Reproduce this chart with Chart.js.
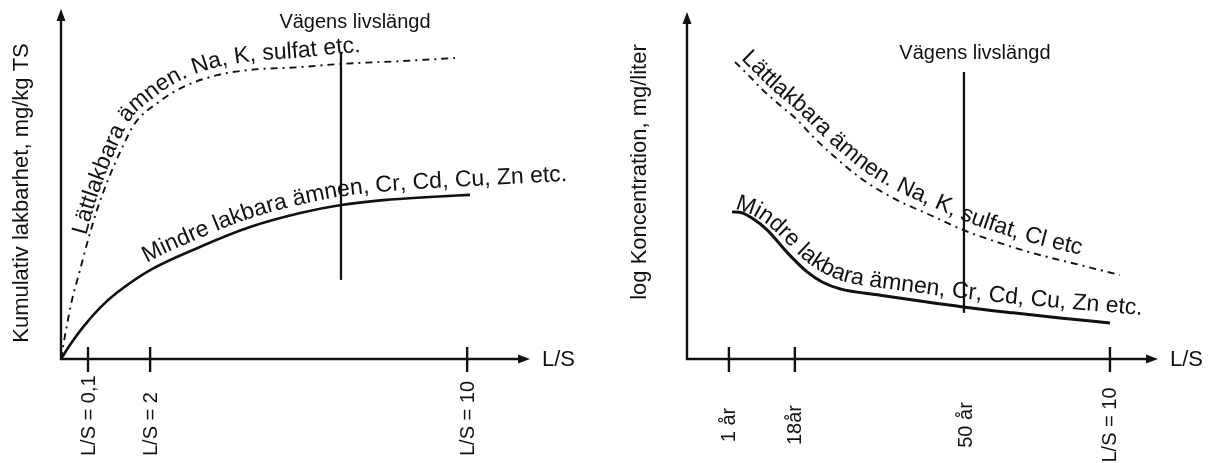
<!DOCTYPE html>
<html><head><meta charset="utf-8">
<script src="https://cdn.jsdelivr.net/npm/chart.js@4.4.1/dist/chart.umd.min.js"></script>
<style>
html,body{margin:0;padding:0;background:#fff;}
#wrap{position:relative;width:1210px;height:463px;overflow:hidden;}
canvas{position:absolute;top:0;}
#c1{left:0;} #c2{left:600px;}
</style></head><body>
<div id="wrap"><canvas id="c1" width="600" height="463"></canvas><canvas id="c2" width="610" height="463"></canvas></div>
<script>
// ---------- Left panel: cumulative leachability (schematic units 0-100) ----------
const leftEasyX = [0, 1.07, 2.35, 4.05, 5.76, 7.68, 10.0, 12.6, 15.8, 20.5, 26.0, 33.3, 40.3, 51.0, 59.5, 72.3, 84.0];
const leftEasyY = [0, 8.3, 16.9, 25.4, 34.0, 42.6, 51.1, 59.1, 67.4, 73.1, 77.7, 81.1, 82.6, 83.4, 84.3, 85.1, 86.0];
const leftLessX = [0, 1.9, 4.7, 8.3, 11.9, 19.0, 29.6, 40.3, 51.0, 59.7, 68.7, 78.7, 87.2];
const leftLessY = [0, 4.0, 9.1, 14.6, 18.9, 25.4, 32.0, 37.7, 41.7, 44.0, 45.4, 46.3, 46.9];
const leftLifeX = [59.7, 59.7];
const leftLifeY = [22.6, 87.7];
const leftTicks = [5.76, 19.0, 86.6];
const leftTickLabels = ['L/S = 0,1', 'L/S = 2', 'L/S = 10'];

// ---------- Right panel: log concentration (schematic units 0-100) ----------
const rightEasyX = [10.2, 13.4, 16.1, 19.7, 23.4, 26.8, 30.4, 37.4, 44.6, 51.6, 58.6, 66.5, 73.5, 83.4, 91.9];
const rightEasyY = [85.6, 81.3, 77.5, 73.2, 68.9, 64.0, 59.4, 51.6, 45.8, 41.5, 37.2, 33.4, 30.5, 27.1, 24.2];
const rightLessX = [9.55, 11.7, 13.8, 17.0, 21.2, 25.5, 28.7, 32.5, 41.0, 49.5, 58.6, 69.2, 79.2, 89.8];
const rightLessY = [42.4, 42.1, 40.6, 37.2, 30.8, 25.1, 22.2, 20.2, 18.4, 16.7, 15.0, 13.3, 11.8, 10.4];
const rightLifeX = [58.8, 58.8];
const rightLifeY = [13.3, 82.7];
const rightTicks = [8.9, 22.9, 89.8];
const rightTickLabelPos = [8.9, 22.9, 59.2, 89.8];
const rightTickLabels = ['1 år', '18år', '50 år', 'L/S = 10'];

const lifeText = 'Vägens livslängd';
const leftTitle = 'Kumulativ lakbarhet, mg/kg TS';
const rightTitle = 'log Koncentration, mg/liter';
const xName = 'L/S';
const leftEasyText = 'Lättlakbara ämnen. Na, K, sulfat etc.';
const rightEasyText = 'Lättlakbara ämnen. Na, K, sulfat, Cl etc';
const lessText = 'Mindre lakbara ämnen, Cr, Cd, Cu, Zn etc.';

const FONT = '"Liberation Sans", Arial, Helvetica, sans-serif';
const INK = '#111';

function zip(xs, ys) { return xs.map((x, i) => ({x: x, y: ys[i]})); }

function unit(a, b) { const dx = b[0]-a[0], dy = b[1]-a[1]; const l = Math.hypot(dx, dy) || 1; return [dx/l, dy/l]; }
function cumLen(P) { const S = [0]; for (let i = 1; i < P.length; i++) S.push(S[i-1] + Math.hypot(P[i][0]-P[i-1][0], P[i][1]-P[i-1][1])); return S; }
function at(P, S, s) {
  if (s <= 0) return P[0].slice();
  const tot = S[S.length-1];
  if (s >= tot) return P[P.length-1].slice();
  let lo = 0, hi = S.length - 1;
  while (hi - lo > 1) { const m = (lo + hi) >> 1; if (S[m] <= s) lo = m; else hi = m; }
  const f = (s - S[lo]) / ((S[hi] - S[lo]) || 1);
  return [P[lo][0] + (P[hi][0]-P[lo][0])*f, P[lo][1] + (P[hi][1]-P[lo][1])*f];
}
function samplePath(meta) {
  const pts = meta.data, out = [];
  for (let i = 0; i < pts.length - 1; i++) {
    const a = pts[i], b = pts[i+1];
    const p1x = a.cp2x ?? a.x, p1y = a.cp2y ?? a.y, p2x = b.cp1x ?? b.x, p2y = b.cp1y ?? b.y;
    for (let k = 0; k < 24; k++) {
      const t = k/24, u = 1-t;
      out.push([u*u*u*a.x + 3*u*u*t*p1x + 3*u*t*t*p2x + t*t*t*b.x,
                u*u*u*a.y + 3*u*u*t*p1y + 3*u*t*t*p2y + t*t*t*b.y]);
    }
  }
  const l = pts[pts.length-1]; out.push([l.x, l.y]);
  return out;
}
function drawCurveText(ctx, meta, cfg) {
  const EXT = 300;
  let P = samplePath(meta);
  const n = P.length;
  const d0 = unit(P[0], P[Math.min(6, n-1)]);
  const d1 = unit(P[Math.max(n-7, 0)], P[n-1]);
  P = [[P[0][0]-d0[0]*EXT, P[0][1]-d0[1]*EXT]].concat(P, [[P[n-1][0]+d1[0]*EXT, P[n-1][1]+d1[1]*EXT]]);
  const S = cumLen(P), tot = S[S.length-1];
  ctx.save();
  ctx.font = cfg.size + 'px ' + FONT;
  const textLen = ctx.measureText(cfg.text).width;
  const O = [], STEP = 2, W = cfg.smooth || 12, PS = cfg.posSmooth || 0;
  const s0 = EXT + cfg.start;
  for (let s = 0; s <= tot; s += STEP) {
    let p;
    if (PS > 0) {
      let sx = 0, sy = 0, c = 0;
      for (let k = -PS; k <= PS; k += 2) { const q = at(P, S, s + k); sx += q[0]; sy += q[1]; c++; }
      p = [sx/c, sy/c];
    } else p = at(P, S, s);
    const a = at(P, S, s - W), b = at(P, S, s + W);
    const t = unit(a, b);
    const fr = Math.max(0, Math.min(1, (s - s0) / textLen));
    const off = cfg.off0 + (cfg.off1 - cfg.off0) * fr;
    O.push([p[0] + t[1]*off, p[1] - t[0]*off]);
  }
  const SO = cumLen(O);
  let cur = SO[Math.round(s0/STEP)];
  ctx.fillStyle = INK;
  ctx.textAlign = 'center';
  ctx.textBaseline = 'alphabetic';
  for (const ch of cfg.text) {
    const w = ctx.measureText(ch).width;
    const mid = cur + w/2;
    const p = at(O, SO, mid), a = at(O, SO, mid - 5), b = at(O, SO, mid + 5);
    const ang = Math.atan2(b[1]-a[1], b[0]-a[0]);
    ctx.save(); ctx.translate(p[0], p[1]); ctx.rotate(ang); ctx.fillText(ch, 0, 0); ctx.restore();
    cur += w;
  }
  ctx.restore();
}

const diagramPlugin = {
  id: 'diagram',
  afterDatasetsDraw(chart, args, o) {
    const ctx = chart.ctx, xs = chart.scales.x, ys = chart.scales.y;
    const x0 = xs.getPixelForValue(0), y0 = ys.getPixelForValue(0);
    const xEnd = xs.getPixelForValue(100), yEnd = ys.getPixelForValue(100);
    ctx.save();
    ctx.strokeStyle = INK; ctx.fillStyle = INK; ctx.lineWidth = 2.4; ctx.lineCap = 'butt';
    ctx.beginPath();
    ctx.moveTo(x0, y0 + 1); ctx.lineTo(x0, yEnd + 8);
    ctx.moveTo(x0 - 1, y0); ctx.lineTo(xEnd - 8, y0);
    ctx.stroke();
    ctx.beginPath(); ctx.moveTo(x0, yEnd); ctx.lineTo(x0 - 4.5, yEnd + 12); ctx.lineTo(x0 + 4.5, yEnd + 12); ctx.closePath(); ctx.fill();
    ctx.beginPath(); ctx.moveTo(xEnd, y0); ctx.lineTo(xEnd - 12, y0 - 4.5); ctx.lineTo(xEnd - 12, y0 + 4.5); ctx.closePath(); ctx.fill();
    // tick marks
    o.ticks.forEach(v => {
      const px = xs.getPixelForValue(v);
      ctx.beginPath(); ctx.moveTo(px, y0 - 12); ctx.lineTo(px, y0 + 13); ctx.stroke();
    });
    // tick labels (rotated)
    ctx.font = '20px ' + FONT;
    ctx.textBaseline = 'middle';
    o.tickLabels.forEach((t, i) => {
      const px = xs.getPixelForValue(o.tickLabelPos[i]);
      ctx.save(); ctx.translate(px + 1, o.labelY); ctx.rotate(-Math.PI/2);
      ctx.textAlign = o.labelAlign; ctx.fillText(t, 0, 0); ctx.restore();
    });
    // x axis name
    ctx.font = '22px ' + FONT;
    ctx.textAlign = 'left';
    ctx.fillText(xName, xEnd + 12, y0 + 1);
    // y axis title
    ctx.save(); ctx.translate(o.titleX, o.titleY); ctx.rotate(-Math.PI/2);
    ctx.textAlign = 'center'; ctx.fillText(o.title, 0, 0); ctx.restore();
    // life-time label above vertical line
    const top = chart.getDatasetMeta(2).data[1];
    ctx.font = '20px ' + FONT;
    ctx.textAlign = 'center';
    ctx.fillText(lifeText, top.x + o.lifeDx, top.y + o.lifeDy);
    ctx.restore();
    // labels following the curves
    o.curveLabels.forEach(cl => drawCurveText(ctx, chart.getDatasetMeta(cl.ds), cl));
  }
};

function makeChart(id, easy, less, life, lessWidth, pad, opts) {
  return new Chart(document.getElementById(id), {
    type: 'line',
    data: {
      datasets: [
        { data: easy, borderColor: INK, borderWidth: 1.9, borderDash: [7, 5, 2, 5], pointRadius: 0, fill: false, cubicInterpolationMode: 'monotone' },
        { data: less, borderColor: INK, borderWidth: lessWidth, pointRadius: 0, fill: false, cubicInterpolationMode: 'monotone' },
        { data: life, borderColor: INK, borderWidth: 2.3, pointRadius: 0, fill: false, tension: 0 }
      ]
    },
    options: {
      responsive: false, animation: false, devicePixelRatio: 1,
      layout: { padding: pad },
      scales: {
        x: { type: 'linear', min: 0, max: 100, display: false },
        y: { type: 'linear', min: 0, max: 100, display: false }
      },
      plugins: { legend: { display: false }, tooltip: { enabled: false }, diagram: opts }
    },
    plugins: [diagramPlugin]
  });
}

makeChart('c1', zip(leftEasyX, leftEasyY), zip(leftLessX, leftLessY), zip(leftLifeX, leftLifeY), 2.6,
  { left: 61, right: 70, top: 9, bottom: 104 },
  {
    ticks: leftTicks, tickLabels: leftTickLabels, tickLabelPos: leftTicks,
    labelY: 456, labelAlign: 'left',
    title: leftTitle, titleX: 22, titleY: 193,
    lifeDx: 14, lifeDy: -30,
    curveLabels: [
      { ds: 0, text: leftEasyText, start: 126, off0: 3, off1: 11, size: 23 },
      { ds: 1, text: lessText, start: 128, off0: 8, off1: 9, size: 23, posSmooth: 10 }
    ]
  });

makeChart('c2', zip(rightEasyX, rightEasyY), zip(rightLessX, rightLessY), zip(rightLifeX, rightLifeY), 3,
  { left: 87, right: 52, top: 12, bottom: 104 },
  {
    ticks: rightTicks, tickLabels: rightTickLabels, tickLabelPos: rightTickLabelPos,
    labelY: 425, labelAlign: 'center',
    title: rightTitle, titleX: 40, titleY: 172,
    lifeDx: 11, lifeDy: -19,
    curveLabels: [
      { ds: 0, text: rightEasyText, start: 2, off0: 6, off1: 10, size: 23, posSmooth: 10 },
      { ds: 1, text: lessText, start: 2, off0: 5, off1: 11, size: 23, smooth: 25, posSmooth: 30 }
    ]
  });
</script>
</body></html>
